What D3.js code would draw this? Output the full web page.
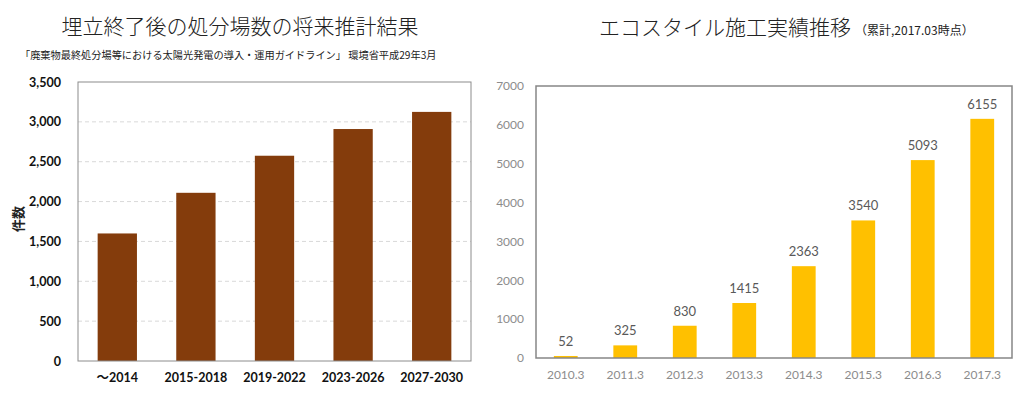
<!DOCTYPE html>
<html>
<head>
<meta charset="utf-8">
<script src="https://cdn.jsdelivr.net/npm/d3@7"></script>
<style>
  body { margin: 0; background: #fff; }
  svg text { font-family: Lato, "Noto Sans CJK JP", sans-serif; }
  .jp { font-family: "Noto Sans CJK JP", sans-serif; }
</style>
</head>
<body>
<svg id="chart" width="1020" height="398"></svg>
<script>
// left chart: landfill sites forecast
const leftCategories = ['～2014', '2015-2018', '2019-2022', '2023-2026', '2027-2030'];
const leftValues = [1600, 2110, 2575, 2910, 3125];
const leftTicks = [0, 500, 1000, 1500, 2000, 2500, 3000, 3500];

// right chart: eco style construction results
const rightCategories = ['2010.3', '2011.3', '2012.3', '2013.3', '2014.3', '2015.3', '2016.3', '2017.3'];
const rightValues = [52, 325, 830, 1415, 2363, 3540, 5093, 6155];
const rightTicks = [0, 1000, 2000, 3000, 4000, 5000, 6000, 7000];

const svg = d3.select('#chart');

// ---- left ----
const L = { left: 78, right: 471, top: 82, bottom: 361 };

const lx = d3.scaleBand()
  .domain(leftCategories)
  .range([L.left, L.right])
  .paddingInner(0.5)
  .paddingOuter(0.25);

const ly = d3.scaleLinear()
  .domain([0, 3500])
  .range([L.bottom, L.top]);

svg.append('text')
  .attr('class', 'jp')
  .attr('x', 240).attr('y', 34)
  .attr('text-anchor', 'middle')
  .style('font-size', '21px')
  .style('font-weight', '300')
  .attr('fill', '#222')
  .text('埋立終了後の処分場数の将来推計結果');

svg.append('text')
  .attr('class', 'jp')
  .attr('x', 20).attr('y', 59)
  .style('font-size', '10.2px')
  .attr('fill', '#222')
  .text('「廃棄物最終処分場等における太陽光発電の導入・運用ガイドライン」 環境省平成29年3月');

// gridlines (dashed)
svg.append('g')
  .selectAll('line')
  .data(leftTicks.filter((d) => d > 0 && d < 3500))
  .join('line')
  .attr('x1', L.left).attr('x2', L.right)
  .attr('y1', (d) => ly(d)).attr('y2', (d) => ly(d))
  .attr('stroke', '#d9d9d9')
  .attr('stroke-dasharray', '4,3');

svg.append('g')
  .selectAll('rect')
  .data(leftValues)
  .join('rect')
  .attr('x', (d, i) => lx(leftCategories[i]))
  .attr('y', (d) => ly(d))
  .attr('width', lx.bandwidth())
  .attr('height', (d) => ly(0) - ly(d))
  .attr('fill', '#843c0c');

// frame
svg.append('rect')
  .attr('x', L.left).attr('y', L.top)
  .attr('width', L.right - L.left).attr('height', L.bottom - L.top)
  .attr('fill', 'none')
  .attr('stroke', '#8c8c8c');

const lyAxis = d3.axisLeft(ly)
  .tickValues(leftTicks)
  .tickFormat(d3.format(','))
  .tickSize(0)
  .tickPadding(17);

svg.append('g')
  .attr('transform', `translate(${L.left},0)`)
  .call(lyAxis)
  .call((g) => g.select('.domain').remove())
  .selectAll('text')
  .style('font-size', '12.5px')
  .style('font-weight', 'bold')
  .attr('fill', '#111');

const lxAxis = d3.axisBottom(lx).tickSize(0).tickPadding(12);
svg.append('g')
  .attr('transform', `translate(0,${L.bottom})`)
  .call(lxAxis)
  .call((g) => g.select('.domain').remove())
  .selectAll('text')
  .style('font-size', '12.5px')
  .style('font-weight', 'bold')
  .attr('fill', '#111');

svg.append('text')
  .attr('class', 'jp')
  .attr('transform', 'translate(23,219) rotate(-90)')
  .attr('text-anchor', 'middle')
  .style('font-size', '13px')
  .style('font-weight', 'bold')
  .attr('fill', '#222')
  .text('件数');

// ---- right ----
const R = { left: 536, right: 1012, top: 86, bottom: 358 };

const rx = d3.scaleBand()
  .domain(rightCategories)
  .range([R.left, R.right])
  .paddingInner(0.6)
  .paddingOuter(0.3);

const ry = d3.scaleLinear()
  .domain([0, 7000])
  .range([R.bottom, R.top]);

const rTitle = svg.append('text')
  .attr('x', 599).attr('y', 35)
  .attr('fill', '#222');
rTitle.append('tspan')
  .attr('class', 'jp')
  .style('font-size', '21px')
  .style('font-weight', '300')
  .text('エコスタイル施工実績推移');
rTitle.append('tspan')
  .attr('class', 'jp')
  .attr('dx', 4)
  .style('font-size', '12px')
  .text('（累計,2017.03時点）');

svg.append('g')
  .selectAll('rect')
  .data(rightValues)
  .join('rect')
  .attr('x', (d, i) => rx(rightCategories[i]))
  .attr('y', (d) => ry(d))
  .attr('width', rx.bandwidth())
  .attr('height', (d) => ry(0) - ry(d))
  .attr('fill', '#ffc000');

svg.append('g')
  .selectAll('text')
  .data(rightValues)
  .join('text')
  .attr('x', (d, i) => rx(rightCategories[i]) + rx.bandwidth() / 2)
  .attr('y', (d) => ry(d) - 10)
  .attr('text-anchor', 'middle')
  .style('font-size', '13px')
  .attr('fill', '#595959')
  .text((d) => d);

svg.append('rect')
  .attr('x', R.left).attr('y', R.top)
  .attr('width', R.right - R.left).attr('height', R.bottom - R.top)
  .attr('fill', 'none')
  .attr('stroke', '#868686')
  .attr('stroke-width', 1.5);

const ryAxis = d3.axisLeft(ry)
  .tickValues(rightTicks)
  .tickFormat(d3.format('d'))
  .tickSize(0)
  .tickPadding(12);

svg.append('g')
  .attr('transform', `translate(${R.left},0)`)
  .call(ryAxis)
  .call((g) => g.select('.domain').remove())
  .selectAll('text')
  .style('font-size', '12px')
  .attr('fill', '#8c8c8c');

const rxAxis = d3.axisBottom(rx).tickSize(0).tickPadding(12);
svg.append('g')
  .attr('transform', `translate(0,${R.bottom})`)
  .call(rxAxis)
  .call((g) => g.select('.domain').remove())
  .selectAll('text')
  .style('font-size', '12px')
  .attr('fill', '#8c8c8c');
</script>
</body>
</html>
